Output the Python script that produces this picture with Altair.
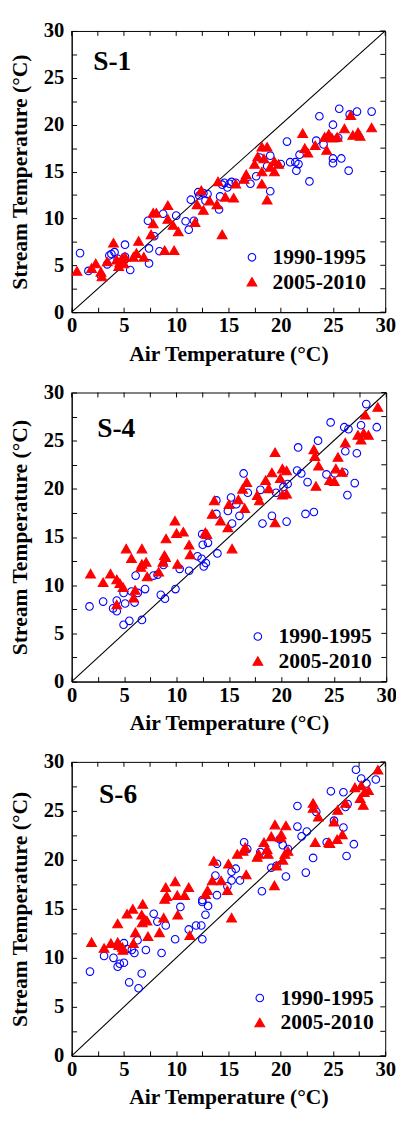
import altair as alt
import pandas as pd

periods = ["1990-1995", "2005-2010"]
panel_names = ["S-1", "S-4", "S-6"]
tick_vals = [0, 2.5, 5, 7.5, 10, 12.5, 15, 17.5, 20, 22.5, 25, 27.5, 30]
line_vals = [0, 30]

# ---------------- S-1 ----------------
s1_c_x = [0.8, 1.6, 2.8, 3.4, 3.6, 3.8, 4.1, 4.4, 5.1, 5.1, 5.6, 7.4, 7.4, 7.3, 7.9, 8.4, 8.75, 10.0, 10.9, 11.2,
          11.7, 11.4, 12.1, 12.2, 12.6, 12.8, 13.0, 14.1, 14.2, 14.4, 14.6, 14.9, 15.1, 15.3, 15.7, 17.1, 17.65, 18.0, 18.7, 19.0,
          19.0, 20.0, 20.6, 20.9, 21.4, 21.5, 21.7, 21.8, 22.75, 23.4, 23.7, 24.1, 25.0, 25.0, 25.0, 25.5, 25.6, 25.8, 26.5, 26.6,
          27.3, 28.7]
s1_c_y = [6.3, 4.4, 3.9, 5.1, 6.05, 6.2, 6.4, 5.7, 7.2, 5.9, 4.5, 6.8, 5.2, 9.75, 8.1, 6.5, 10.5, 10.3, 9.7, 8.8,
          9.75, 12.0, 12.8, 12.45, 12.7, 11.9, 12.6, 10.95, 12.35, 13.6, 13.8, 13.3, 13.7, 13.9, 13.8, 13.7, 14.5, 16.5, 15.6, 16.7,
          12.9, 15.8, 18.2, 16.0, 16.0, 15.1, 15.8, 16.8, 13.95, 18.3, 20.9, 17.9, 20.0, 16.4, 15.9, 18.6, 21.7, 16.4, 15.1, 21.1,
          21.4, 21.4]
s1_t_x = [0.5, 1.9, 2.3, 2.8, 2.9, 3.4, 4.0, 4.3, 4.6, 4.5, 5.0, 4.8, 5.1, 5.9, 6.2, 6.4, 6.9, 7.6, 7.8, 7.8,
          8.1, 8.9, 9.2, 9.2, 9.7, 9.8, 10.2, 11.8, 12.0, 12.6, 12.4, 13.2, 13.9, 14.0, 14.4, 14.7, 15.5, 15.7, 16.5, 16.7,
          17.5, 17.8, 18.2, 18.2, 18.2, 18.4, 18.7, 18.7, 19.0, 19.4, 19.4, 19.8, 22.1, 22.3, 22.6, 23.3, 24.2, 24.4, 24.6, 24.9,
          25.4, 26.1, 26.7, 26.9, 27.4, 27.6, 28.7]
s1_t_y = [4.4, 4.7, 5.2, 4.3, 3.8, 5.4, 7.4, 5.6, 5.3, 4.9, 5.2, 5.7, 5.9, 5.9, 6.3, 7.6, 5.9, 8.3, 9.45, 10.6,
          10.6, 6.6, 11.4, 9.95, 9.3, 6.6, 8.6, 9.6, 11.5, 10.9, 13.0, 11.9, 11.5, 13.95, 8.3, 12.3, 12.2, 13.7, 14.2, 14.7,
          15.8, 16.6, 17.65, 15.0, 13.7, 16.4, 17.65, 12.0, 15.5, 16.1, 15.0, 15.8, 19.1, 17.5, 17.0, 17.8, 18.7, 17.3, 19.0, 18.6,
          18.7, 19.6, 21.0, 18.9, 19.2, 18.8, 19.7]

# ---------------- S-4 ----------------
s4_c_x = [1.7, 3.0, 3.95, 4.3, 4.3, 4.95, 4.95, 5.1, 5.5, 5.7, 6.0, 6.3, 6.7, 7.0, 6.1, 7.8, 8.2, 8.75, 8.5, 8.9,
          9.9, 10.3, 11.2, 12.0, 12.4, 12.8, 12.6, 12.5, 13.0, 12.45, 13.9, 13.8, 13.8, 14.9, 15.2, 15.3, 15.7, 16.0, 16.4, 16.8,
          18.0, 18.2, 19.1, 19.5, 20.2, 20.6, 20.5, 21.5, 21.6, 21.9, 22.3, 22.5, 23.1, 23.5, 24.3, 24.7, 25.1, 26.0, 26.0, 26.1,
          26.3, 26.4, 27.0, 27.2, 27.6, 28.1, 29.1]
s4_c_y = [7.8, 8.3, 7.6, 7.3, 8.4, 5.9, 9.2, 8.1, 6.3, 9.35, 8.2, 9.2, 6.4, 9.6, 11.0, 11.0, 11.1, 12.1, 9.0, 8.6,
          9.6, 11.7, 11.5, 13.0, 12.75, 12.3, 11.95, 14.2, 14.4, 15.3, 13.3, 18.8, 17.4, 17.7, 19.1, 16.4, 18.4, 17.2, 21.6, 19.6,
          19.9, 16.4, 17.2, 19.6, 20.2, 20.5, 16.6, 21.9, 24.3, 21.6, 17.4, 20.7, 17.6, 25.0, 21.5, 26.9, 21.6, 21.7, 26.4, 23.9,
          19.35, 26.2, 20.6, 23.7, 26.6, 28.8, 26.4]
s4_t_x = [1.8, 3.0, 3.7, 4.3, 4.6, 4.9, 4.3, 5.9, 6.05, 5.2, 5.7, 6.7, 6.7, 7.1, 6.6, 7.2, 8.3, 8.85, 8.7, 8.95,
          9.0, 9.85, 10.0, 10.65, 10.1, 11.2, 11.3, 12.75, 12.9, 13.6, 13.4, 14.2, 14.9, 15.0, 15.3, 15.9, 16.5, 16.3, 16.7, 17.7,
          17.9, 18.5, 18.8, 19.1, 19.4, 19.4, 19.9, 20.1, 20.5, 20.1, 20.5, 23.1, 23.2, 23.55, 23.3, 24.6, 25.2, 25.8, 25.05, 25.4,
          26.1, 27.3, 27.85, 28.3, 27.6, 28.0, 29.2]
s4_t_y = [11.2, 10.3, 11.2, 10.6, 10.2, 9.8, 8.0, 8.7, 9.5, 13.8, 12.8, 13.8, 12.2, 12.4, 11.9, 10.9, 11.4, 13.1, 12.4, 12.9,
          14.85, 16.7, 15.4, 15.55, 12.2, 14.2, 13.2, 15.5, 15.3, 18.8, 17.4, 16.7, 16.0, 18.4, 13.8, 18.9, 18.0, 20.0, 20.7, 19.35,
          18.8, 20.9, 20.05, 21.7, 23.8, 16.5, 21.1, 22.1, 21.9, 19.4, 19.5, 24.1, 23.4, 22.4, 20.3, 20.9, 22.1, 21.75, 20.8, 23.3,
          24.8, 25.6, 25.8, 25.6, 25.1, 27.7, 28.5]

# ---------------- S-6 ----------------
s6_c_x = [1.75, 3.1, 4.0, 4.4, 4.6, 5.0, 5.0, 5.3, 5.75, 6.0, 6.3, 5.5, 6.4, 6.7, 7.1, 7.85, 8.2, 9.0, 8.6, 9.9,
          10.4, 11.2, 11.9, 12.4, 12.5, 12.5, 12.5, 13.05, 12.8, 13.75, 13.9, 13.9, 14.9, 15.3, 15.3, 15.7, 16.1, 16.5, 16.8, 18.05,
          18.2, 19.1, 19.6, 19.9, 20.2, 20.7, 20.5, 21.6, 21.6, 22.0, 22.5, 22.4, 23.1, 23.4, 24.4, 24.8, 25.1, 26.0, 26.0, 26.2,
          26.4, 26.3, 27.0, 27.2, 27.7, 28.2, 29.1]
s6_c_y = [8.6, 10.2, 10.0, 9.1, 9.4, 9.5, 11.5, 10.9, 10.8, 10.5, 11.8, 7.5, 6.9, 8.4, 10.8, 14.5, 13.7, 13.3, 10.5, 11.9,
          15.2, 12.9, 13.3, 13.3, 11.9, 15.9, 15.7, 15.3, 14.4, 18.4, 19.6, 16.4, 17.3, 18.8, 17.9, 19.1, 17.9, 21.8, 21.1, 20.8,
          16.8, 19.2, 19.4, 22.1, 21.5, 21.1, 18.3, 25.5, 23.4, 22.4, 22.9, 18.7, 20.2, 24.9, 21.8, 27.0, 24.0, 26.9, 23.3, 25.4,
          25.7, 20.4, 21.6, 29.2, 28.3, 27.8, 28.2]
s6_t_x = [1.9, 3.1, 3.75, 4.4, 4.5, 4.9, 4.85, 4.4, 5.3, 5.85, 6.8, 6.7, 7.0, 6.75, 7.2, 6.1, 5.9, 7.3, 8.4, 8.8,
          9.0, 9.1, 8.9, 9.9, 10.1, 10.8, 11.2, 10.15, 11.3, 12.8, 13.0, 13.6, 13.45, 14.3, 15.0, 14.9, 15.3, 15.85, 16.4, 16.6,
          16.7, 17.75, 17.9, 18.4, 18.7, 18.8, 19.1, 19.45, 20.0, 20.05, 20.5, 19.6, 20.2, 20.4, 20.7, 19.4, 23.1, 23.1, 23.6, 23.3,
          24.6, 24.7, 25.1, 25.4, 25.45, 25.9, 26.2, 27.1, 27.7, 28.0, 28.4, 27.6, 27.9, 29.3]
s6_t_y = [11.6, 11.0, 11.5, 11.6, 11.3, 10.8, 11.1, 13.5, 14.5, 15.0, 15.5, 14.4, 13.9, 13.6, 13.8, 12.6, 11.5, 12.2, 12.6, 14.1,
          17.2, 16.3, 16.0, 17.8, 16.4, 16.4, 17.2, 14.4, 12.3, 16.5, 16.9, 19.9, 17.9, 17.9, 19.6, 16.9, 14.1, 20.6, 20.9, 21.3,
          18.5, 20.3, 20.6, 21.8, 21.1, 20.6, 22.4, 23.6, 22.3, 22.6, 23.5, 19.4, 20.0, 20.6, 20.9, 17.4, 25.8, 25.3, 24.4, 21.8,
          21.8, 21.7, 23.9, 22.1, 25.1, 22.6, 25.8, 27.4, 27.6, 26.9, 27.1, 26.3, 25.6, 29.2]

FONT = "Liberation Serif"
BLUE = "#0000ff"
RED = "#ff0000"
XTITLE = "Air Temperature (\u00b0C)"
YTITLE = "Stream Temperature (\u00b0C)"


def axis(orient, title, lab_pad, title_pad):
    return alt.Axis(
        orient=orient,
        values=tick_vals,
        tickSize=alt.ExprRef(expr="-5"),
        tickColor="black",
        tickWidth=1,
        domain=True,
        domainColor="black",
        domainWidth=1,
        grid=False,
        title=title,
        labelExpr="datum.value % 5 === 0 ? format(datum.value, 'd') : ''",
        labelFont=FONT,
        labelFontSize=21,
        labelFontWeight="bold",
        labelColor="black",
        labelPadding=lab_pad,
        labelFlush=False,
        labelOverlap=False,
        titleFont=FONT,
        titleFontSize=22,
        titleFontWeight="bold",
        titleColor="black",
        titlePadding=title_pad,
    )


XAX = axis("bottom", XTITLE, 8, 8)
YAX = axis("left", YTITLE, 13, 12)


def panel(name, cx, cy, tx, ty, w, h, legx, legy, labx, laby):
    df = pd.DataFrame({
        "air": cx + tx,
        "stream": cy + ty,
        "period": [periods[0]] * len(cx) + [periods[1]] * len(tx),
    })
    xs = alt.Scale(domain=[0, 30], nice=False, zero=False)
    ys = alt.Scale(domain=[0, 30], nice=False, zero=False)
    leg = alt.Legend(
        orient="none", legendX=legx, legendY=legy, title=None,
        labelFont=FONT, labelFontSize=22, labelFontWeight="bold", labelColor="black",
        symbolStrokeWidth=1.1, rowPadding=3, labelOffset=10, padding=0,
    )
    ticks_df = pd.DataFrame({"t": tick_vals})
    top_ticks = alt.Chart(ticks_df).mark_rule(color="black", strokeWidth=1).encode(
        x=alt.X("t:Q", scale=xs, axis=XAX, title=XTITLE),
        y=alt.value(0), y2=alt.value(5),
    )
    right_ticks = alt.Chart(ticks_df).mark_rule(color="black", strokeWidth=1).encode(
        y=alt.Y("t:Q", scale=ys, axis=YAX, title=YTITLE),
        x=alt.value(w), x2=alt.value(w - 5),
    )
    line = alt.Chart(pd.DataFrame({"a": line_vals, "b": line_vals})).mark_line(
        color="black", strokeWidth=1.1
    ).encode(
        x=alt.X("a:Q", scale=xs, axis=XAX, title=XTITLE),
        y=alt.Y("b:Q", scale=ys, axis=YAX, title=YTITLE),
    )
    pts = alt.Chart(df).mark_point(strokeWidth=1.1, opacity=1).encode(
        x=alt.X("air:Q", scale=xs, axis=XAX, title=XTITLE),
        y=alt.Y("stream:Q", scale=ys, axis=YAX, title=YTITLE),
        shape=alt.Shape("period:N", scale=alt.Scale(domain=periods, range=["circle", "triangle-up"]), legend=leg),
        stroke=alt.Stroke("period:N", scale=alt.Scale(domain=periods, range=[BLUE, RED]), legend=leg),
        fill=alt.Fill("period:N", scale=alt.Scale(domain=periods, range=["transparent", RED]), legend=leg),
        size=alt.Size("period:N", scale=alt.Scale(domain=periods, range=[60, 100]), legend=leg),
    )
    lab = alt.Chart(pd.DataFrame({"name": [name]})).mark_text(
        font=FONT, fontSize=28, fontWeight="bold", color="black", align="left", baseline="alphabetic"
    ).encode(text="name:N", x=alt.value(labx), y=alt.value(laby))
    return alt.layer(top_ticks, right_ticks, line, pts, lab).properties(width=w, height=h)


p1 = panel(panel_names[0], s1_c_x, s1_c_y, s1_t_x, s1_t_y, 320, 287, 173, 220, 22, 40)
p2 = panel(panel_names[1], s4_c_x, s4_c_y, s4_t_x, s4_t_y, 321, 295, 179, 238, 26, 45)
p3 = panel(panel_names[2], s6_c_x, s6_c_y, s6_t_x, s6_t_y, 320, 300, 181, 230, 28, 42)

chart = alt.vconcat(p1, p2, p3, spacing=16).resolve_scale(
    shape="independent", stroke="independent", fill="independent", size="independent"
).resolve_legend(
    shape="independent", stroke="independent", fill="independent", size="independent"
).properties(
    padding={"left": 0, "top": 0, "right": -1, "bottom": -2}
).configure(background="white").configure_view(stroke="black", strokeWidth=1)

chart.save("out.html", embed_options={"renderer": "svg", "actions": False})
